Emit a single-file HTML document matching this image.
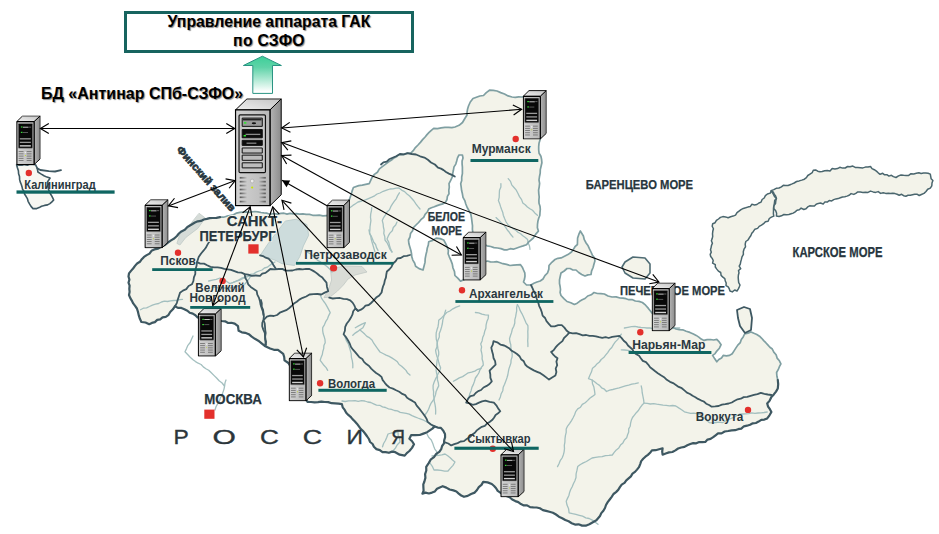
<!DOCTYPE html>
<html><head><meta charset="utf-8">
<style>
html,body{margin:0;padding:0;background:#fff;}
body{width:939px;height:534px;overflow:hidden;position:relative;font-family:"Liberation Sans",sans-serif;}
svg{position:absolute;left:0;top:0;}
.hdr{position:absolute;left:124px;top:11px;width:284px;height:36px;border:3px solid #17645f;background:#fff;}
.hdr div{position:absolute;left:0;width:100%;text-align:center;font-weight:bold;font-size:15.8px;color:#000;text-shadow:1px 1px 1px #8a8a8a;}
.bd{position:absolute;left:41px;top:84.8px;font-weight:bold;font-size:16px;color:#000;text-shadow:1px 1px 1px #8a8a8a;white-space:nowrap;}
</style></head><body>
<svg width="939" height="534" viewBox="0 0 939 534">
<defs>
<linearGradient id="gfront" x1="0" x2="1" y1="0" y2="0"><stop offset="0" stop-color="#d2d2d2"/><stop offset="1" stop-color="#b9b9b9"/></linearGradient>
<linearGradient id="gside" x1="0" x2="1"><stop offset="0" stop-color="#b4b4b4"/><stop offset="1" stop-color="#8c8c8c"/></linearGradient>
<linearGradient id="gtop" x1="0" x2="1" y1="1" y2="0"><stop offset="0" stop-color="#f0f0f0"/><stop offset="1" stop-color="#c4c4c4"/></linearGradient>
<linearGradient id="gventL" x1="0" x2="1"><stop offset="0" stop-color="#555"/><stop offset="1" stop-color="#c4c4c4"/></linearGradient>
<linearGradient id="gventR" x1="0" x2="1"><stop offset="0" stop-color="#c4c4c4"/><stop offset="1" stop-color="#555"/></linearGradient>
<linearGradient id="garrow" x1="0" x2="0" y1="0" y2="1"><stop offset="0" stop-color="#3ccf98"/><stop offset="0.3" stop-color="#5fd3a8"/><stop offset="0.95" stop-color="#ffffff"/></linearGradient>
<symbol id="srv" viewBox="0 0 48 109" preserveAspectRatio="none">
 <polygon points="0.8,11.7 12.4,0.6 47.2,0.6 35.8,11.7" fill="url(#gtop)" stroke="#000" stroke-width="1" vector-effect="non-scaling-stroke"/>
 <polygon points="35.8,11.7 47.2,0.6 47.2,96.9 35.8,107.9" fill="url(#gside)" stroke="#000" stroke-width="1" vector-effect="non-scaling-stroke"/>
 <rect x="0.8" y="11.7" width="35" height="96.2" fill="url(#gfront)" stroke="#000" stroke-width="1.3" vector-effect="non-scaling-stroke"/>
 <rect x="4.4" y="16.7" width="26.8" height="58" rx="1.2" fill="#c6c6c6" stroke="#111" stroke-width="1.2" vector-effect="non-scaling-stroke"/>
 <rect x="7.6" y="19.9" width="20.4" height="8.3" fill="#9a9a9a" stroke="#111" stroke-width="1" vector-effect="non-scaling-stroke"/>
 <rect x="8.4" y="20.6" width="18.8" height="1.6" fill="#222"/>
 <ellipse cx="19.5" cy="25" rx="2.2" ry="1" fill="#111"/>
 <rect x="9.4" y="23.9" width="2.4" height="1.6" fill="#2ee82e"/>
 <rect x="7.6" y="31.4" width="20.4" height="8.3" fill="#0c0c0c" stroke="#111" stroke-width="1" vector-effect="non-scaling-stroke"/>
 <rect x="11" y="35.6" width="15" height="1.3" fill="#8a8a8a"/>
 <rect x="9" y="36.8" width="2.4" height="1.6" fill="#2ee82e"/>
 <rect x="7.6" y="42.2" width="20.4" height="5.1" fill="#0c0c0c" stroke="#111" stroke-width="1" vector-effect="non-scaling-stroke"/>
 <rect x="12" y="44.6" width="10" height="0.9" fill="#bbb"/>
 <rect x="7.6" y="49.9" width="20.4" height="5.1" fill="#bdbdbd" stroke="#111" stroke-width="1" vector-effect="non-scaling-stroke"/>
 <rect x="7.6" y="57.1" width="20.4" height="5.2" fill="#bdbdbd" stroke="#111" stroke-width="1" vector-effect="non-scaling-stroke"/>
 <rect x="7.6" y="64.8" width="20.4" height="5.1" fill="#bdbdbd" stroke="#111" stroke-width="1" vector-effect="non-scaling-stroke"/>
 <g fill="url(#gventL)">
  <rect x="5.1" y="79" width="7.3" height="1.7"/><rect x="5.1" y="82.9" width="7.3" height="1.7"/><rect x="5.1" y="86.8" width="7.3" height="1.7"/><rect x="5.1" y="90.8" width="7.3" height="1.7"/><rect x="5.1" y="94.7" width="7.3" height="1.7"/><rect x="5.1" y="98.6" width="7.3" height="1.7"/><rect x="5.1" y="102.9" width="7.3" height="1.7"/>
 </g>
 <g fill="url(#gventR)">
  <rect x="24" y="79" width="7.5" height="1.7"/><rect x="24" y="82.9" width="7.5" height="1.7"/><rect x="24" y="86.8" width="7.5" height="1.7"/><rect x="24" y="90.8" width="7.5" height="1.7"/><rect x="24" y="94.7" width="7.5" height="1.7"/><rect x="24" y="98.6" width="7.5" height="1.7"/><rect x="24" y="102.9" width="7.5" height="1.7"/>
 </g>
 <circle cx="17.7" cy="83.1" r="1.9" fill="#eaeaea" stroke="#999" stroke-width="0.5"/>
 <circle cx="17.7" cy="89.6" r="1.1" fill="#c8e400"/>
</symbol>
<symbol id="srvs" viewBox="0 0 24 49" preserveAspectRatio="none">
 <polygon points="0.5,6.2 6.3,0.5 23.6,0.5 17.6,6.2" fill="url(#gtop)" stroke="#000" stroke-width="0.9"/>
 <polygon points="17.6,6.2 23.6,0.5 23.6,43 17.6,48.6" fill="url(#gside)" stroke="#000" stroke-width="0.9"/>
 <rect x="0.6" y="6.2" width="17" height="42.4" rx="0.6" fill="url(#gfront)" stroke="#000" stroke-width="1.2"/>
 <rect x="2" y="7.9" width="14.2" height="24.6" rx="0.8" fill="#080808" stroke="#9a9a9a" stroke-width="0.6"/>
 <rect x="4.6" y="10.9" width="1.6" height="1.1" fill="#3cf03c"/>
 <rect x="6.6" y="11.2" width="5.5" height="0.9" fill="#d8d8d8"/><rect x="12.5" y="11.2" width="2.2" height="0.7" fill="#888"/>
 <rect x="4.6" y="16.2" width="1.6" height="1.1" fill="#3cf03c"/>
 <rect x="6.6" y="16.5" width="5" height="0.7" fill="#777"/>
 <rect x="3.6" y="22.5" width="10.8" height="1.3" fill="#9a9a9a"/>
 <rect x="3.6" y="26" width="10.8" height="1.3" fill="#9a9a9a"/>
 <rect x="3.6" y="29.4" width="10.8" height="1.4" fill="#d0d0d0"/>
 <g fill="#6a6a6a">
  <rect x="2.4" y="35.4" width="4.8" height="0.8"/><rect x="10.3" y="35.4" width="4.8" height="0.8"/>
  <rect x="2.4" y="37.6" width="4.8" height="0.8"/><rect x="10.3" y="37.6" width="4.8" height="0.8"/>
  <rect x="2.4" y="39.8" width="4.8" height="0.8"/><rect x="10.3" y="39.8" width="4.8" height="0.8"/>
  <rect x="2.4" y="42" width="4.8" height="0.8"/><rect x="10.3" y="42" width="4.8" height="0.8"/>
  <rect x="2.4" y="44.2" width="4.8" height="0.8"/><rect x="10.3" y="44.2" width="4.8" height="0.8"/>
 </g>
 <circle cx="9" cy="36.6" r="0.8" fill="#eee"/>
 <circle cx="9" cy="39.5" r="0.5" fill="#c8e400"/>
</symbol>
<marker id="ah" viewBox="0 0 9 10" refX="8.4" refY="5" markerWidth="9" markerHeight="10" overflow="visible" markerUnits="userSpaceOnUse" orient="auto-start-reverse">
 <path d="M0,0 L8.4,5 L0,10" fill="none" stroke="#000" stroke-width="1.15"/>
</marker>
<marker id="ahf" viewBox="0 0 8 8" refX="7.3" refY="4" markerWidth="8" markerHeight="8" overflow="visible" markerUnits="userSpaceOnUse" orient="auto">
 <path d="M0,0.2 L7.3,4 L0,7.8 z" fill="#000"/>
</marker>
</defs>

<g id="map">
<path d="M455.0,127.0 L462.5,122.5 L467.0,115.0 L468.5,106.0 L473.0,98.5 L483.5,95.5 L489.5,90.2 L497.0,91.0 L504.5,94.0 L512.0,97.0 L522.0,97.0 L535.0,94.0 L545.0,110.0 L542.0,128.0 L540.0,140.0 L538.7,150.0 L541.9,162.8 L539.0,180.0 L539.2,197.0 L540.0,212.4 L537.5,224.3 L538.4,231.1 L533.3,238.0 L526.5,244.7 L516.2,248.2 L504.3,249.9 L490.7,246.5 L480.4,243.0 L474.2,240.0 L472.5,225.8 L470.8,214.0 L465.8,204.0 L462.4,193.8 L460.7,183.7 L462.4,170.2 L462.4,155.0 L459.0,155.0 L454.0,166.9 L452.3,177.0 L449.0,183.7 L449.0,193.8 L445.6,202.2 L437.1,205.6 L428.7,209.0 L423.7,217.4 L418.6,222.5 L413.5,227.5 L408.5,240.0 L410.0,247.4 L411.8,256.8 L415.6,266.2 L423.0,270.0 L425.0,262.4 L426.8,251.2 L428.7,241.8 L436.2,238.1 L443.7,240.0 L447.4,247.4 L449.3,256.8 L453.0,268.0 L454.9,275.5 L460.5,281.1 L470.0,276.0 L480.0,264.0 L487.5,261.0 L499.5,262.5 L510.0,265.5 L520.5,264.7 L523.5,270.0 L525.0,276.0 L523.5,282.0 L526.5,285.0 L531.0,285.0 L537.0,282.0 L543.0,279.0 L547.5,273.0 L549.0,265.5 L555.0,259.5 L564.0,256.5 L571.5,252.0 L577.4,244.5 L577.6,238.0 L580.3,231.0 L583.4,236.0 L586.1,243.0 L591.0,252.0 L594.6,258.0 L594.0,264.0 L591.0,274.5 L585.0,276.0 L576.0,270.0 L567.0,268.5 L561.0,273.0 L559.5,283.5 L561.0,295.5 L567.0,301.5 L574.4,304.5 L585.0,298.5 L594.0,292.5 L604.4,294.0 L612.0,297.0 L620.0,298.0 L632.0,299.5 L642.4,302.5 L648.4,308.4 L652.0,313.0 L665.0,322.0 L676.0,329.0 L682.7,329.8 L693.4,334.0 L704.0,340.4 L716.8,339.4 L721.1,344.7 L716.8,351.1 L712.6,355.4 L716.8,361.8 L723.2,355.4 L729.6,355.4 L733.9,351.1 L740.3,342.6 L744.6,334.0 L751.0,331.9 L759.5,336.2 L772.3,349.0 L780.9,363.9 L776.6,372.5 L777.8,380.0 L777.8,388.5 L771.4,397.1 L767.2,403.5 L771.4,412.0 L767.2,418.4 L750.1,424.8 L735.1,430.2 L718.0,433.4 L705.3,441.9 L690.3,444.0 L675.4,450.4 L662.6,454.7 L662.6,448.3 L651.9,450.4 L641.2,461.1 L637.0,469.6 L626.3,480.3 L613.5,494.0 L606.0,505.0 L600.0,516.0 L596.4,520.3 L585.7,525.7 L575.0,524.6 L562.2,518.2 L549.4,511.8 L536.6,507.5 L523.8,505.4 L515.3,501.1 L500.3,492.6 L491.8,484.0 L483.2,481.9 L474.7,492.6 L464.0,496.8 L453.4,490.4 L442.7,486.2 L432.0,492.6 L422.4,493.6 L424.4,481.5 L426.2,466.8 L430.9,459.3 L439.3,451.8 L444.0,443.4 L445.0,434.0 L440.9,427.9 L434.7,426.4 L427.2,432.2 L419.7,435.0 L411.2,435.0 L409.4,438.7 L414.0,444.3 L409.4,451.0 L404.7,455.6 L399.7,454.7 L395.3,452.2 L382.5,452.2 L373.9,446.8 L365.4,434.0 L354.7,421.2 L346.2,412.7 L341.9,404.2 L324.8,402.0 L307.7,402.0 L300.0,385.0 L293.0,372.0 L288.4,363.0 L284.5,360.3 L283.2,353.8 L278.0,349.8 L270.1,348.5 L264.8,345.9 L258.3,340.7 L251.7,336.7 L245.2,332.8 L238.6,330.8 L238.0,326.2 L234.7,323.6 L228.1,323.0 L221.6,321.0 L210.0,320.0 L197.6,317.4 L187.4,310.7 L175.0,306.2 L168.3,315.2 L149.2,324.2 L141.4,322.0 L136.9,308.5 L129.0,295.0 L129.0,273.4 L135.0,265.9 L144.0,256.9 L154.4,249.4 L165.0,245.0 L171.0,240.4 L176.9,236.0 L181.4,231.4 L187.4,227.0 L194.9,222.5 L203.8,219.5 L212.8,218.0 L220.0,217.2 L226.8,216.2 L239.9,212.4 L254.9,211.5 L269.9,214.3 L281.0,213.4 L293.1,213.8 L306.2,214.4 L319.3,215.1 L326.6,215.7 L340.0,208.0 L349.5,199.3 L350.8,195.4 L353.4,187.5 L358.7,185.6 L369.2,183.6 L374.4,174.4 L382.3,166.6 L391.5,160.0 L399.4,154.3 L410.6,153.4 L418.0,145.0 L425.1,137.0 L433.7,128.4 L448.6,127.4 Z" fill="#f3f3ea" stroke="none" stroke-width="0" stroke-linejoin="round" stroke-linecap="round" />
<path d="M285.6,221.0 L296.2,219.2 L306.9,224.6 L308.7,235.2 L303.4,245.9 L299.8,256.6 L294.5,265.5 L282.0,263.7 L274.9,260.1 L264.2,256.6 L260.7,254.8 L267.8,244.1 L278.5,229.9 Z" fill="#cddcdc" stroke="#b5c8c8" stroke-width="0.8" stroke-linejoin="round" stroke-linecap="round" />
<path d="M330.7,268.5 L345.0,266.0 L362.0,266.5 L367.0,272.0 L355.0,275.0 L348.0,279.0 L343.4,285.0 L337.5,291.0 L330.0,297.0 L324.0,297.7 L328.5,289.4 L331.5,280.4 Z" fill="#d9dcd6" stroke="#c0c8c4" stroke-width="0.8" stroke-linejoin="round" stroke-linecap="round" />
<path d="M199.3,213.5 L205.3,218.0 L197.8,228.4 L185.9,237.4 L179.9,245.0 L176.9,243.4 L179.9,234.4 L190.4,224.0 Z" fill="#d6dcd8" stroke="#c0cac6" stroke-width="0.8" stroke-linejoin="round" stroke-linecap="round" />
<path d="M621.3,334.1 L619.5,336.8 L617.6,339.6 L615.3,341.9 L613.4,344.6 L611.8,347.5 L609.5,349.8 L607.7,352.6 L605.6,355.1 L603.7,357.6 L601.2,359.5 L599.4,362.0 L596.9,363.9 L595.0,366.3 L592.5,368.2 L591.5,371.8 L589.9,375.2 L588.5,378.7 L592.1,380.0 L592.5,383.7 L593.9,387.1 L594.5,390.7 L595.0,394.4 L592.4,396.4 L589.8,398.2 L587.5,400.6 L585.2,402.8 L582.3,404.4 L580.5,407.2 L577.7,408.9 L575.7,411.6 L574.6,414.8 L573.1,417.7 L571.5,420.6 L569.7,423.4 L567.6,426.1 L566.2,429.1 L566.2,432.4 L565.4,435.6 L565.0,438.8 L564.9,442.1 L564.3,445.3 L564.5,448.6 L564.1,451.8 L563.3,455.0 L562.1,458.0 L560.2,460.7 L559.0,463.7 L557.5,466.6" fill="none" stroke="#a3bfbf" stroke-width="1.3" stroke-linejoin="round" stroke-linecap="round" />
<path d="M641.2,385.8 L641.9,389.2 L642.2,392.7 L642.9,396.2 L643.6,399.6 L644.0,403.1 L641.9,405.3 L640.0,407.8 L638.4,410.5 L636.3,412.7 L634.4,415.1 L632.5,417.5 L631.3,420.3 L630.6,423.2 L630.2,426.2 L628.7,428.9 L628.7,432.0 L627.6,434.8 L626.7,437.7 L624.4,440.0 L622.9,442.9 L620.5,445.1 L618.8,447.9 L616.3,449.9 L614.2,452.4 L612.3,455.0 L608.9,455.4 L605.5,455.6 L602.2,456.7 L598.8,456.8 L595.5,457.4 L592.1,458.0 L589.2,459.7 L586.4,461.5 L583.3,462.9 L580.4,464.5 L577.7,466.6 L577.0,470.2 L576.1,473.8 L576.0,477.5 L574.8,481.0 L573.4,483.8 L572.2,486.7 L570.7,489.5 L569.6,492.4 L568.9,495.5 L567.5,498.4 L566.2,501.2 L567.0,505.1 L568.6,508.8 L569.1,512.8 L572.5,513.7 L575.9,514.4 L579.3,515.3 L582.6,516.2 L585.8,517.8 L589.2,518.5 L592.3,520.1 L595.2,522.2 L598.0,524.3" fill="none" stroke="#a3bfbf" stroke-width="1.3" stroke-linejoin="round" stroke-linecap="round" />
<path d="M644.0,403.1 L647.2,403.3 L650.3,404.0 L653.6,403.6 L656.7,404.2 L659.9,404.6 L663.0,405.2 L666.2,405.4 L669.4,405.8 L672.6,405.5 L675.8,406.0 L678.7,407.9 L681.6,409.7 L684.4,411.8 L687.5,412.7 L690.6,413.4 L693.8,413.1 L696.9,413.7 L700.0,414.6 L702.5,416.4 L704.9,418.4 L707.1,420.7 L709.5,422.7 L712.7,422.8 L715.9,422.5 L719.1,422.2 L722.3,422.7 L725.1,421.2 L727.9,419.7 L730.9,418.5 L733.9,417.4 L736.6,415.8 L739.4,414.2 L742.5,414.0 L745.6,413.8 L748.7,413.6 L751.7,412.8 L754.9,413.4 L758.0,413.0 L761.1,412.9 L764.1,412.5 L767.2,412.0" fill="none" stroke="#a3bfbf" stroke-width="1.3" stroke-linejoin="round" stroke-linecap="round" />
<path d="M592.1,380.0 L594.6,381.8 L597.0,383.8 L599.5,385.4 L601.6,387.8 L604.4,389.2 L606.5,391.5 L609.6,390.2 L612.8,389.5 L616.0,388.6 L619.2,387.9 L622.3,386.8 L625.4,385.9 L628.7,385.1 L631.8,384.2 L635.1,383.6 L638.3,382.9" fill="none" stroke="#a3bfbf" stroke-width="1.3" stroke-linejoin="round" stroke-linecap="round" />
<path d="M500.9,183.6 L500.9,187.1 L499.5,190.3 L499.3,193.8 L499.2,197.3 L498.4,200.6 L499.6,203.4 L500.5,206.4 L501.5,209.3 L502.7,212.2 L503.3,215.2 L504.6,218.6 L506.1,222.0 L508.2,225.0 L510.6,226.8 L513.1,228.6 L515.7,230.1 L517.9,232.2 L520.6,233.7 L522.8,235.7 L525.3,237.5 L527.6,239.5 L528.1,242.8 L529.5,246.0 L530.0,249.3" fill="none" stroke="#a3bfbf" stroke-width="1.3" stroke-linejoin="round" stroke-linecap="round" />
<path d="M508.2,178.7 L510.5,181.4 L511.7,184.8 L514.0,187.5 L516.3,190.2 L517.9,193.3 L519.5,196.6 L521.6,199.6 L522.8,203.0 L525.2,204.8 L527.4,207.0 L529.9,208.8 L532.5,210.3 L534.8,212.9 L537.4,215.2" fill="none" stroke="#a3bfbf" stroke-width="1.3" stroke-linejoin="round" stroke-linecap="round" />
<path d="M496.0,217.6 L498.6,219.9 L500.9,222.4 L503.5,224.7 L505.7,227.4 L507.3,230.0 L509.3,232.3 L511.0,234.8 L513.0,237.1" fill="none" stroke="#a3bfbf" stroke-width="1.3" stroke-linejoin="round" stroke-linecap="round" />
<path d="M624.4,328.0 L627.9,327.3 L631.4,326.7 L635.0,326.4 L638.0,327.0 L640.9,327.5 L644.0,327.7 L647.0,328.0 L650.0,328.0 L653.0,328.6 L656.0,328.7 L659.0,328.4 L662.0,329.0 L665.0,329.0 L668.0,329.4 L671.9,328.5 L675.8,328.0 L679.8,328.0" fill="none" stroke="#a3bfbf" stroke-width="1.3" stroke-linejoin="round" stroke-linecap="round" />
<path d="M621.3,349.8 L624.7,350.0 L628.1,350.3 L631.4,351.1 L634.7,351.8 L638.2,351.7 L641.5,352.5 L644.9,352.5" fill="none" stroke="#a3bfbf" stroke-width="1.3" stroke-linejoin="round" stroke-linecap="round" />
<path d="M459.7,305.9 L456.2,307.1 L452.9,308.8 L449.9,311.0 L446.6,312.5 L444.2,315.3 L441.5,317.9 L438.7,320.3 L438.5,323.5 L438.0,326.7 L437.0,329.8 L436.2,332.9 L436.1,336.1 L436.3,339.3 L437.2,342.4 L437.5,345.5 L437.9,348.7 L438.7,351.8 L438.7,354.9 L437.7,357.9 L437.0,360.9 L436.7,364.0 L436.3,367.1 L436.1,370.2 L436.6,373.3 L437.5,376.4 L437.4,379.7 L438.3,382.7 L438.7,385.9 L437.4,388.6 L436.1,391.4 L435.6,394.4 L434.6,397.2 L433.4,400.0 L431.3,402.8 L429.8,405.9 L428.6,409.2 L427.0,412.2 L425.0,415.0" fill="none" stroke="#a3bfbf" stroke-width="1.3" stroke-linejoin="round" stroke-linecap="round" />
<path d="M475.4,312.5 L478.7,312.8 L481.9,314.2 L485.2,314.8 L488.5,315.1 L488.2,318.4 L486.9,321.6 L486.1,324.8 L485.9,328.2 L484.7,331.3 L484.0,334.5 L482.7,337.6 L482.1,340.9 L480.7,343.9 L481.6,346.9 L481.0,350.0 L481.7,353.0 L482.2,356.0 L482.1,359.0 L483.0,362.0 L483.3,365.0 L481.4,367.4 L479.9,370.0 L478.8,373.0 L477.2,375.5 L475.4,378.0 L474.5,381.2 L473.4,384.4 L471.9,387.4 L471.1,390.7 L469.8,393.7 L469.0,397.0 L467.5,400.0" fill="none" stroke="#a3bfbf" stroke-width="1.3" stroke-linejoin="round" stroke-linecap="round" />
<path d="M517.4,304.6 L516.6,307.6 L516.7,310.8 L516.1,313.8 L515.6,316.9 L514.8,319.9 L514.8,323.0 L513.8,326.2 L512.3,329.1 L511.6,332.4 L510.5,335.5 L509.5,338.7 L509.9,341.8 L510.8,344.7 L510.9,347.8 L511.5,350.9 L512.2,353.9 L512.1,357.0 L511.1,359.9 L510.9,363.1 L509.9,366.0 L508.9,368.9 L508.3,372.0 L507.8,375.0 L506.9,378.0 L505.8,381.1 L504.6,384.3 L503.2,387.3 L502.8,390.7 L501.2,393.7 L500.4,396.9 L499.0,400.0" fill="none" stroke="#a3bfbf" stroke-width="1.3" stroke-linejoin="round" stroke-linecap="round" />
<path d="M517.4,304.6 L519.1,307.5 L520.2,310.7 L521.9,313.6 L523.3,316.6 L524.7,319.7 L526.0,322.8 L527.9,325.6 L528.0,328.6 L527.8,331.6 L527.9,334.6 L527.9,337.6 L527.7,340.6 L527.9,343.6 L527.9,346.6" fill="none" stroke="#a3bfbf" stroke-width="1.3" stroke-linejoin="round" stroke-linecap="round" />
<path d="M453.4,381.3 L456.4,379.6 L459.3,377.9 L462.6,376.6 L465.4,374.7 L468.3,372.8 L471.6,372.1 L474.8,371.1 L477.8,369.3 L481.1,368.5" fill="none" stroke="#a3bfbf" stroke-width="1.3" stroke-linejoin="round" stroke-linecap="round" />
<path d="M432.0,456.0 L435.3,455.6 L438.6,455.4 L441.8,454.8 L445.0,454.0 L447.7,455.7 L450.2,457.7 L452.5,460.0 L455.0,462.0 L453.0,465.3 L450.5,468.2 L448.0,471.0 L444.5,471.2 L441.0,470.3 L437.5,470.0 L434.0,470.0 L432.3,466.3 L430.0,463.0" fill="none" stroke="#a3bfbf" stroke-width="1.3" stroke-linejoin="round" stroke-linecap="round" />
<path d="M382.5,446.8 L383.6,443.5 L385.4,440.5 L386.8,437.3 L388.0,434.0 L391.3,433.0 L394.7,433.0 L398.0,432.0 L398.2,435.4 L399.6,438.6 L400.0,442.0 L397.3,444.7 L395.4,448.1 L393.0,451.0" fill="none" stroke="#a3bfbf" stroke-width="1.3" stroke-linejoin="round" stroke-linecap="round" />
<path d="M371.7,207.7 L371.4,210.9 L370.7,214.1 L370.5,217.3 L370.9,220.6 L370.4,223.8 L370.0,227.0 L369.9,230.2 L369.5,233.4 L371.2,236.1 L372.5,239.0 L373.6,242.0 L375.6,244.5 L376.5,247.6 L378.0,250.4" fill="none" stroke="#a3bfbf" stroke-width="1.3" stroke-linejoin="round" stroke-linecap="round" />
<path d="M399.4,192.8 L397.7,195.6 L396.4,198.6 L394.4,201.2 L392.5,203.9 L390.8,206.7 L389.5,209.7 L387.0,212.0 L385.5,214.9 L383.6,217.6 L382.3,220.6 L383.1,223.8 L383.4,227.0 L384.1,230.2 L383.8,233.6 L384.8,236.7 L385.0,240.0 L387.1,242.8 L388.6,246.0 L389.9,249.2 L392.0,252.0" fill="none" stroke="#a3bfbf" stroke-width="1.3" stroke-linejoin="round" stroke-linecap="round" />
<path d="M305.0,250.0 L307.3,252.2 L310.2,253.8 L312.7,255.7 L315.0,258.0 L317.3,260.1 L320.0,261.6 L322.4,263.4 L325.0,265.0 L327.6,267.0 L330.0,269.4 L332.0,272.0" fill="none" stroke="#a3bfbf" stroke-width="1.3" stroke-linejoin="round" stroke-linecap="round" />
<path d="M275.0,262.0 L272.3,263.4 L269.8,265.3 L267.4,267.2 L264.4,268.0 L262.0,270.0 L259.1,271.0 L256.2,272.1 L253.7,273.9 L250.5,274.3 L248.0,276.2 L245.0,277.0 L241.6,278.2 L238.5,280.0 L235.3,281.6 L232.0,283.0" fill="none" stroke="#a3bfbf" stroke-width="1.3" stroke-linejoin="round" stroke-linecap="round" />
<path d="M208.7,281.0 L212.5,280.1 L216.3,279.4 L220.0,278.0 L223.3,279.7 L226.7,281.4 L229.7,283.6 L233.1,282.4 L236.5,281.0 L240.0,280.0 L243.4,278.2 L247.0,276.8 L250.7,275.7 L249.2,278.7 L247.1,281.4 L245.0,284.0 L242.0,285.0 L239.1,285.8 L235.9,286.1 L233.1,287.4 L230.0,288.0 L227.0,287.8 L224.0,288.0 L221.0,287.7 L218.0,287.8 L215.0,287.4 L212.0,287.0" fill="none" stroke="#a3bfbf" stroke-width="1.3" stroke-linejoin="round" stroke-linecap="round" />
<path d="M140.5,309.8 L143.3,308.2 L146.6,307.8 L149.5,306.5 L152.4,305.1 L155.5,304.2 L158.7,303.5 L161.5,302.0 L164.4,301.2 L167.5,301.5 L170.5,300.8 L173.5,300.5 L176.5,300.4 L179.5,299.6 L182.5,299.3" fill="none" stroke="#a3bfbf" stroke-width="1.3" stroke-linejoin="round" stroke-linecap="round" />
<path d="M360.0,330.0 L362.4,332.0 L364.7,334.1 L366.9,336.4 L369.7,337.9 L372.0,340.0 L373.7,343.2 L375.8,346.1 L377.9,349.1 L380.0,352.0 L383.0,353.5 L386.1,355.1 L389.2,356.4 L392.2,358.1 L395.0,360.0 L397.4,361.8 L399.1,364.5 L401.6,366.3 L403.8,368.3 L406.0,370.4 L407.6,373.1 L410.0,375.0" fill="none" stroke="#a3bfbf" stroke-width="1.3" stroke-linejoin="round" stroke-linecap="round" />
<path d="M320.2,295.0 L321.5,298.1 L323.4,301.0 L325.4,303.7 L327.1,306.6 L328.7,309.6 L330.2,312.6 L328.7,315.6 L327.5,318.8 L325.7,321.7 L324.4,324.8 L322.7,327.7 L322.7,330.8 L323.2,333.8 L324.2,336.7 L325.0,339.7 L325.2,342.7 L323.9,345.5 L323.7,348.6 L322.8,351.5 L322.3,354.6 L321.1,357.4 L320.2,360.3 L322.1,362.8 L323.9,365.3 L326.1,367.6 L327.7,370.3" fill="none" stroke="#a3bfbf" stroke-width="1.3" stroke-linejoin="round" stroke-linecap="round" />
<path d="M345.3,337.7 L346.5,340.9 L348.3,343.8 L349.3,347.1 L350.3,350.3 L351.2,353.7 L351.4,357.3 L352.3,360.7 L352.8,364.2 L352.8,367.8" fill="none" stroke="#a3bfbf" stroke-width="1.3" stroke-linejoin="round" stroke-linecap="round" />
<path d="M355.3,327.7 L358.6,325.9 L361.9,324.1 L365.4,322.7 L362.9,327.7 L360.3,329.5 L357.8,331.4 L355.2,333.1 L352.8,335.2" fill="none" stroke="#a3bfbf" stroke-width="1.3" stroke-linejoin="round" stroke-linecap="round" />
<path d="M445.7,310.1 L444.7,313.4 L443.8,316.7 L442.8,320.1 L442.4,323.5 L441.6,326.9 L440.6,330.2 L439.3,333.4 L439.3,337.0 L437.9,340.2 L437.1,343.6 L436.9,347.1 L435.6,350.3 L436.1,353.3 L436.9,356.2 L438.0,359.1 L438.7,362.0 L439.5,365.0 L440.6,367.8 L439.7,370.9 L438.1,373.7 L436.8,376.6 L435.3,379.4 L434.1,382.3 L433.1,385.4 L433.1,388.6 L433.6,391.8 L433.5,395.0 L434.0,398.1 L434.3,401.3 L435.0,404.4 L435.5,407.6 L435.7,410.8 L435.6,414.0" fill="none" stroke="#a3bfbf" stroke-width="1.3" stroke-linejoin="round" stroke-linecap="round" />
<path d="M193.0,336.0 L191.5,339.2 L190.2,342.5 L187.9,345.3 L186.5,348.6 L185.0,351.8 L187.6,354.5 L190.2,357.2 L193.0,359.7 L195.5,361.6 L198.2,363.2 L201.1,364.5 L203.3,366.9 L205.9,368.7 L208.7,370.2 L211.3,372.8 L213.9,375.4 L216.6,378.0 L219.1,380.8 L222.1,383.0 L224.4,386.0" fill="none" stroke="#a3bfbf" stroke-width="1.3" stroke-linejoin="round" stroke-linecap="round" />
<path d="M226.0,380.0 L225.0,382.9 L224.6,386.1 L224.0,389.1 L223.0,392.1 L222.0,395.0 L220.4,397.9 L219.5,401.1 L217.6,403.9 L216.0,406.8 L215.0,410.0" fill="none" stroke="#a3bfbf" stroke-width="1.3" stroke-linejoin="round" stroke-linecap="round" />
<path d="M348.0,209.0 L350.5,207.2 L352.9,205.4 L355.5,203.7 L358.0,202.0 L361.7,201.0 L365.4,199.9 L369.0,198.4 L371.8,197.2 L374.6,195.8 L377.1,194.0 L380.0,193.0 L383.2,191.3 L386.6,190.1 L390.0,189.0 L393.0,188.9 L396.0,188.1 L399.0,188.0 L401.6,190.1 L404.6,191.6 L407.0,194.0 L409.6,196.0 L411.8,198.5 L414.0,201.0 L415.9,203.8 L417.8,206.4 L420.0,209.0" fill="none" stroke="#a3bfbf" stroke-width="1.3" stroke-linejoin="round" stroke-linecap="round" />
<path d="M369.0,230.0 L369.6,233.0 L370.7,235.9 L371.2,239.0 L372.0,242.0 L373.0,245.3 L374.0,248.7 L375.0,252.0" fill="none" stroke="#a3bfbf" stroke-width="1.3" stroke-linejoin="round" stroke-linecap="round" />
<path d="M397.0,222.0 L395.7,225.0 L393.3,227.5 L392.3,230.7 L389.9,233.1 L388.3,235.9 L387.0,239.0 L388.7,242.1 L389.5,245.5 L390.5,248.9 L392.0,252.0" fill="none" stroke="#a3bfbf" stroke-width="1.3" stroke-linejoin="round" stroke-linecap="round" />
<path d="M342.0,401.0 L345.2,401.5 L348.5,400.9 L351.7,400.8 L355.0,400.7 L358.2,401.4 L361.5,400.7 L364.7,401.0 L367.7,402.0 L370.8,402.5 L373.6,403.8 L376.5,405.2 L379.7,405.3 L382.5,406.9 L385.5,407.5 L388.4,408.8 L391.5,409.4 L394.4,410.5 L397.4,410.9 L400.2,412.4 L403.2,412.9 L406.3,413.4 L409.2,414.2 L412.0,415.6 L414.9,416.8 L417.8,418.0 L420.8,419.1 L423.7,420.2 L426.5,421.8 L429.1,423.4 L431.6,425.1 L434.0,427.0" fill="none" stroke="#a3bfbf" stroke-width="1.3" stroke-linejoin="round" stroke-linecap="round" />
<path d="M427.0,434.0 L428.6,437.3 L431.3,440.0 L432.8,443.4 L433.7,446.3 L434.8,449.1 L436.7,451.7 L437.5,454.6" fill="none" stroke="#a3bfbf" stroke-width="1.3" stroke-linejoin="round" stroke-linecap="round" />
<path d="M220.0,217.2 L223.5,217.2 L226.8,216.2 L230.1,215.5 L233.5,214.8 L236.6,213.1 L239.9,212.4 L242.9,212.1 L245.9,211.9 L248.9,212.5 L251.9,211.8 L254.9,211.5 L257.9,211.9 L260.9,212.5 L263.9,212.9 L267.0,213.2 L269.9,214.3 L273.6,213.5 L277.3,214.1 L281.0,213.4 L284.0,213.2 L287.0,214.1 L290.1,213.4 L293.1,213.8 L296.4,213.7 L299.6,214.1 L302.9,213.9 L306.2,214.4 L309.5,214.4 L312.7,215.3 L316.0,215.4 L319.3,215.1 L322.9,215.8 L326.6,215.7 L329.4,214.3 L332.2,213.1 L334.9,211.5 L337.3,209.6 L340.0,208.0 L342.6,206.0 L344.4,203.3 L347.3,201.7 L349.5,199.3 L350.8,195.4 L352.0,191.4 L353.4,187.5 L358.7,185.6 L362.3,185.2 L365.7,184.4 L369.2,183.6 L370.7,180.4 L372.2,177.2 L374.4,174.4 L377.4,172.2 L379.4,168.9 L382.3,166.6 L385.3,164.4 L388.3,162.0 L391.5,160.0 L394.0,157.9 L396.9,156.4 L399.4,154.3 L403.2,154.6 L406.8,153.4 L410.6,153.4 L413.2,150.7 L415.4,147.6 L418.0,145.0 L420.4,142.4 L422.6,139.6 L425.1,137.0 L427.0,134.6 L429.1,132.4 L431.3,130.3 L433.7,128.4 L437.5,128.6 L441.1,127.9 L444.9,127.3 L448.6,127.4 L451.8,127.7 L455.0,127.0 L459.1,125.3 L462.5,122.5 L464.7,118.7 L467.0,115.0 L467.1,111.9 L467.6,108.9 L468.5,106.0 L470.3,102.0 L473.0,98.5 L476.4,97.3 L479.9,96.0 L483.5,95.5 L486.3,92.6 L489.5,90.2 L493.3,90.3 L497.0,91.0 L500.7,92.6 L504.5,94.0 L508.1,95.9 L512.0,97.0 L515.3,97.3 L518.7,96.9 L522.0,97.0 L525.2,96.1 L528.5,95.5 L531.7,94.6 L535.0,94.0 L536.8,96.6 L538.8,99.1 L540.2,101.9 L541.2,105.0 L543.7,107.1 L545.0,110.0 L544.5,113.0 L543.8,116.0 L543.1,118.9 L543.3,122.1 L542.8,125.0 L542.0,128.0 L541.8,131.0 L541.1,134.0 L540.6,137.0 L540.0,140.0 L539.0,143.3 L538.7,146.6 L538.7,150.0 L539.1,153.3 L540.9,156.3 L541.6,159.5 L541.9,162.8 L541.1,166.2 L540.3,169.6 L540.2,173.1 L539.5,176.5 L539.0,180.0 L539.6,183.4 L539.2,186.8 L538.6,190.2 L538.8,193.6 L539.2,197.0 L538.9,200.1 L539.0,203.2 L540.0,206.2 L540.3,209.3 L540.0,212.4 L539.8,215.5 L538.7,218.3 L537.9,221.3 L537.5,224.3 L537.4,227.8 L538.4,231.1 L535.6,234.4 L533.3,238.0 L530.9,240.1 L528.5,242.2 L526.5,244.7 L523.1,245.9 L519.6,247.0 L516.2,248.2 L513.3,249.2 L510.2,248.7 L507.3,249.8 L504.3,249.9 L501.0,248.6 L497.5,248.0 L494.0,247.6 L490.7,246.5 L487.1,245.8 L483.7,244.4 L480.4,243.0 L477.4,241.4 L474.2,240.0 L474.0,236.4 L472.9,233.0 L472.4,229.4 L472.5,225.8 L472.0,221.9 L471.5,217.9 L470.8,214.0 L469.0,210.7 L467.2,207.5 L465.8,204.0 L464.8,200.6 L463.0,197.4 L462.4,193.8 L461.6,190.5 L461.2,187.1 L460.7,183.7 L461.7,180.4 L461.7,177.0 L462.4,173.6 L462.4,170.2 L462.4,167.2 L462.1,164.1 L462.1,161.1 L463.0,158.0 L462.4,155.0 L459.0,155.0 L457.5,157.9 L456.7,161.0 L455.8,164.1 L454.0,166.9 L453.4,170.3 L452.7,173.6 L452.3,177.0 L450.7,180.4 L449.0,183.7 L449.3,187.1 L448.8,190.4 L449.0,193.8 L447.4,196.4 L447.0,199.5 L445.6,202.2 L443.0,203.9 L440.0,204.6 L437.1,205.6 L434.3,206.8 L431.4,207.7 L428.7,209.0 L427.3,212.0 L425.1,214.4 L423.7,217.4 L420.9,219.7 L418.6,222.5 L416.0,225.0 L413.5,227.5 L412.6,230.8 L410.5,233.5 L410.0,237.0 L408.5,240.0 L408.9,243.8 L410.0,247.4 L410.9,250.5 L411.5,253.6 L411.8,256.8 L412.8,260.1 L414.6,263.0 L415.6,266.2 L419.1,268.6 L423.0,270.0 L424.0,266.2 L425.0,262.4 L425.2,258.6 L425.9,254.9 L426.8,251.2 L427.3,248.0 L428.3,245.0 L428.7,241.8 L432.7,240.4 L436.2,238.1 L440.1,238.6 L443.7,240.0 L445.7,243.6 L447.4,247.4 L448.4,250.5 L448.1,253.8 L449.3,256.8 L450.9,260.4 L452.3,264.1 L453.0,268.0 L454.5,271.6 L454.9,275.5 L457.8,278.2 L460.5,281.1 L463.9,279.8 L467.1,278.1 L470.0,276.0 L472.2,273.8 L474.5,271.6 L476.4,269.1 L477.8,266.3 L480.0,264.0 L483.6,262.1 L487.5,261.0 L490.4,261.9 L493.5,262.0 L496.6,261.6 L499.5,262.5 L502.9,263.7 L506.5,264.4 L510.0,265.5 L513.5,265.1 L517.0,264.8 L520.5,264.7 L522.3,267.2 L523.5,270.0 L524.8,272.9 L525.0,276.0 L524.5,279.1 L523.5,282.0 L526.5,285.0 L531.0,285.0 L533.9,283.3 L537.0,282.0 L540.2,281.0 L543.0,279.0 L544.9,275.7 L547.5,273.0 L548.8,269.4 L549.0,265.5 L551.8,262.3 L555.0,259.5 L557.9,258.3 L561.1,257.9 L564.0,256.5 L567.9,254.6 L571.5,252.0 L573.4,249.4 L575.0,246.7 L577.4,244.5 L577.5,241.2 L577.6,238.0 L578.8,234.4 L580.3,231.0 L583.4,236.0 L584.3,239.7 L586.1,243.0 L588.1,245.8 L589.5,248.9 L591.0,252.0 L592.4,255.2 L594.6,258.0 L594.9,261.1 L594.0,264.0 L593.1,267.5 L591.6,270.9 L591.0,274.5 L587.9,274.9 L585.0,276.0 L581.7,274.5 L578.7,272.5 L576.0,270.0 L572.9,270.0 L570.1,268.5 L567.0,268.5 L564.2,271.0 L561.0,273.0 L560.2,276.5 L559.5,279.9 L559.5,283.5 L560.1,286.5 L560.5,289.5 L560.1,292.6 L561.0,295.5 L563.9,298.6 L567.0,301.5 L570.8,302.7 L574.4,304.5 L577.2,303.2 L579.6,301.3 L582.2,299.8 L585.0,298.5 L587.7,296.0 L591.2,294.8 L594.0,292.5 L597.4,293.5 L600.9,293.7 L604.4,294.0 L608.0,296.0 L612.0,297.0 L616.1,296.9 L620.0,298.0 L623.0,298.1 L626.0,298.7 L628.9,299.7 L632.0,299.5 L635.3,301.0 L639.0,301.4 L642.4,302.5 L645.6,305.2 L648.4,308.4 L652.0,313.0 L654.6,314.7 L657.2,316.6 L659.5,318.8 L662.6,319.9 L665.0,322.0 L667.6,324.1 L670.3,325.7 L673.0,327.6 L676.0,329.0 L679.3,329.7 L682.7,329.8 L686.2,331.3 L689.9,332.4 L693.4,334.0 L696.2,335.4 L698.8,337.1 L701.2,339.1 L704.0,340.4 L707.2,339.6 L710.4,339.5 L713.6,340.0 L716.8,339.4 L719.2,341.9 L721.1,344.7 L719.4,348.2 L716.8,351.1 L715.1,353.6 L712.6,355.4 L714.6,358.6 L716.8,361.8 L718.8,359.5 L721.5,357.9 L723.2,355.4 L726.4,355.9 L729.6,355.4 L732.2,353.7 L733.9,351.1 L735.8,348.1 L737.8,345.1 L740.3,342.6 L741.3,339.5 L743.2,336.9 L744.6,334.0 L747.9,333.2 L751.0,331.9 L753.9,333.3 L756.8,334.5 L759.5,336.2 L761.7,338.3 L763.7,340.6 L765.8,342.7 L767.8,344.9 L769.9,347.2 L772.3,349.0 L773.8,352.1 L776.1,354.7 L777.1,358.1 L779.4,360.8 L780.9,363.9 L779.4,366.7 L778.2,369.7 L776.6,372.5 L776.9,376.3 L777.8,380.0" fill="none" stroke="#7f9fa2" stroke-width="1.7" stroke-linejoin="round" stroke-linecap="round" />
<path d="M777.8,380.0 L778.2,384.2 L777.8,388.5 L776.0,391.6 L773.8,394.4 L771.4,397.1 L769.7,400.6 L767.2,403.5 L768.1,406.6 L769.9,409.2 L771.4,412.0 L769.5,415.3 L767.2,418.4 L764.4,419.6 L761.3,419.9 L758.6,421.6 L755.9,423.0 L752.8,423.3 L750.1,424.8 L747.0,425.7 L743.9,426.3 L741.3,428.6 L738.1,429.2 L735.1,430.2 L731.6,430.4 L728.2,431.0 L724.7,431.5 L721.5,433.4 L718.0,433.4 L715.6,435.3 L713.2,437.2 L710.6,438.9 L707.5,439.6 L705.3,441.9 L702.3,442.2 L699.2,442.1 L696.3,443.3 L693.2,443.1 L690.3,444.0 L687.3,445.3 L684.5,446.9 L681.2,447.5 L678.1,448.5 L675.4,450.4 L672.4,452.0 L669.0,452.4 L665.7,453.5 L662.6,454.7 L662.2,451.5 L662.6,448.3 L659.1,449.2 L655.6,450.2 L651.9,450.4 L650.1,452.8 L647.9,454.9 L645.4,456.7 L643.2,458.8 L641.2,461.1 L640.2,464.1 L639.0,467.1 L637.0,469.6 L635.0,471.9 L632.5,473.7 L630.9,476.3 L628.6,478.3 L626.3,480.3 L624.5,482.9 L621.7,484.6 L619.9,487.1 L618.2,489.9 L616.0,492.1 L613.5,494.0 L611.7,496.8 L609.7,499.5 L607.7,502.1 L606.0,505.0 L605.0,508.0 L603.4,510.7 L601.3,513.1 L600.0,516.0 L596.4,520.3 L592.9,522.2 L589.4,524.2 L585.7,525.7 L582.1,525.6 L578.6,524.3 L575.0,524.6 L571.7,523.2 L568.6,521.3 L565.3,520.0 L562.2,518.2 L558.9,516.7 L556.0,514.5 L552.9,512.8 L549.4,511.8 L546.1,510.9 L542.9,510.1 L539.9,508.3 L536.6,507.5 L533.3,507.4 L530.1,507.1 L527.1,505.4 L523.8,505.4 L520.9,504.1 L518.3,502.1 L515.3,501.1 L512.2,499.5 L509.6,497.2 L506.3,496.0 L503.1,494.7 L500.3,492.6 L497.7,490.9 L496.1,488.2 L494.1,486.0 L491.8,484.0 L487.6,482.4 L483.2,481.9 L481.5,484.9 L478.8,487.1 L477.0,490.0 L474.7,492.6 L471.1,494.0 L467.7,495.9 L464.0,496.8 L461.2,495.5 L458.7,493.6 L456.4,491.5 L453.4,490.4 L449.6,489.5 L446.3,487.6 L442.7,486.2 L439.8,487.4 L437.0,488.8 L434.9,491.4 L432.0,492.6 L428.9,493.5 L425.5,492.6 L422.4,493.6 L423.6,490.7 L423.4,487.5 L423.3,484.4 L424.4,481.5 L425.4,477.9 L425.1,474.1 L426.3,470.5 L426.2,466.8 L428.7,463.1 L430.9,459.3 L434.0,457.1 L436.2,453.9 L439.3,451.8 L441.2,449.2 L442.1,446.0 L444.0,443.4 L444.2,440.3 L445.1,437.2 L445.0,434.0 L443.3,430.7 L440.9,427.9 L437.7,427.6 L434.7,426.4 L432.4,428.6 L429.8,430.4 L427.2,432.2 L423.4,433.6 L419.7,435.0 L415.4,435.2 L411.2,435.0 L409.4,438.7 L412.1,441.2 L414.0,444.3 L412.0,447.9 L409.4,451.0 L406.8,453.1 L404.7,455.6 L399.7,454.7 L395.3,452.2 L392.1,451.6 L388.9,452.8 L385.7,452.1 L382.5,452.2 L379.8,450.1 L376.4,449.1 L373.9,446.8 L372.6,444.0 L370.1,442.0 L368.9,439.0 L367.2,436.5 L365.4,434.0 L363.4,431.3 L360.9,429.1 L358.9,426.4 L356.9,423.7 L354.7,421.2 L352.5,419.1 L350.6,416.8 L348.3,414.9 L346.2,412.7 L344.7,409.9 L342.7,407.3 L341.9,404.2 L338.5,403.6 L335.1,403.3 L331.6,403.2 L328.3,402.1 L324.8,402.0 L321.4,401.6 L318.0,402.1 L314.5,402.4 L311.1,402.0 L307.7,402.0 L305.9,399.4 L304.7,396.5 L303.8,393.5 L302.0,390.9 L301.2,387.9 L300.0,385.0 L298.3,381.7 L295.9,378.8 L294.9,375.2 L293.0,372.0 L290.9,369.3 L290.2,365.9 L288.4,363.0 L284.5,360.3 L284.2,357.0 L283.2,353.8 L280.6,351.8 L278.0,349.8 L273.9,349.8 L270.1,348.5 L264.8,345.9 L261.6,343.3 L258.3,340.7 L254.9,338.8 L251.7,336.7 L248.8,334.2 L245.2,332.8 L241.8,332.3 L238.6,330.8 L238.0,326.2 L234.7,323.6 L231.4,322.8 L228.1,323.0 L225.1,321.3 L221.6,321.0 L217.8,320.3 L213.9,319.9 L210.0,320.0 L206.8,319.8 L203.9,318.0 L200.7,318.1 L197.6,317.4 L195.4,315.2 L192.8,313.6 L189.7,312.8 L187.4,310.7 L184.4,309.2 L181.4,307.9 L177.9,307.9 L175.0,306.2 L172.9,309.3 L170.2,312.0 L168.3,315.2 L165.8,316.9 L162.6,317.3 L160.2,319.3 L157.2,319.9 L154.9,322.1 L151.9,322.9 L149.2,324.2 L145.5,322.5 L141.4,322.0 L139.9,318.8 L138.8,315.4 L138.0,311.9 L136.9,308.5 L135.1,305.9 L133.2,303.4 L131.8,300.6 L130.2,297.9 L129.0,295.0 L129.6,291.9 L129.3,288.8 L129.6,285.7 L128.5,282.7 L129.4,279.6 L128.5,276.5 L129.0,273.4 L131.0,270.9 L133.1,268.5 L135.0,265.9 L137.1,263.5 L139.9,261.8 L141.8,259.2 L144.0,256.9 L146.7,255.1 L149.5,253.6 L151.5,250.8 L154.4,249.4 L158.2,248.6 L161.5,246.6 L165.0,245.0 L167.9,242.6 L171.0,240.4 L174.2,238.5 L176.9,236.0 L178.9,233.5 L181.4,231.4 L184.8,229.8 L187.4,227.0 L191.2,224.8 L194.9,222.5 L197.8,221.3 L201.0,220.9 L203.8,219.5 L206.8,218.9 L209.7,218.1 L212.8,218.0 L216.4,217.9 L220.0,217.2" fill="none" stroke="#3e5862" stroke-width="2.2" stroke-linejoin="round" stroke-linecap="round" />
<path d="M381.0,164.5 L383.4,162.3 L386.7,161.6 L389.1,159.3 L392.0,158.0 L396.1,156.2 L400.0,154.0 L403.9,154.3 L407.6,153.2 L411.8,154.0 L416.0,154.5 L420.1,156.3 L424.4,157.6 L427.9,159.8 L431.0,162.5 L434.9,164.5 L438.0,167.7 L441.0,168.6 L443.6,170.1 L446.0,172.0 L448.9,173.6 L451.9,174.9 L454.8,176.5" fill="none" stroke="#3e5862" stroke-width="1.8" stroke-linejoin="round" stroke-linecap="round" />
<path d="M410.0,255.0 L406.8,255.8 L403.6,256.2 L400.7,258.0 L397.4,258.4 L395.6,261.3 L393.0,263.5 L391.6,266.7 L389.5,269.3 L386.9,271.5 L386.3,274.5 L385.9,277.6 L384.8,280.5 L384.2,283.6 L383.0,286.5 L382.2,289.5 L381.6,292.5 L379.3,295.4 L376.2,297.6 L373.7,300.4 L371.1,303.0 L368.7,305.0 L365.5,305.6 L363.4,308.0 L360.9,309.7 L358.0,310.8 L355.6,308.5 L354.3,305.4 L352.6,302.6 L350.2,300.3 L346.9,299.1 L343.4,298.9 L340.0,298.0 L336.4,298.2 L332.8,298.5 L329.2,297.7" fill="none" stroke="#3e5862" stroke-width="1.8" stroke-linejoin="round" stroke-linecap="round" />
<path d="M210.7,240.0 L208.8,242.4 L207.2,245.1 L205.8,247.8 L203.9,250.2 L201.1,253.5 L198.7,257.0 L197.0,262.2 L196.5,266.1 L195.3,270.0 L195.3,274.0 L193.9,277.3 L193.4,281.0 L191.9,284.3 L188.6,286.0 L186.3,289.1 L182.9,290.6 L180.0,292.8 L178.9,296.2 L177.8,299.6 L176.8,303.1 L175.0,306.2" fill="none" stroke="#3e5862" stroke-width="1.8" stroke-linejoin="round" stroke-linecap="round" />
<path d="M197.0,262.2 L200.3,263.6 L204.0,263.6 L207.2,265.3 L210.5,266.9 L214.1,267.3 L217.6,267.3 L221.0,267.9 L224.3,268.9 L227.7,269.3 L231.1,269.8 L234.4,271.1 L237.8,272.4 L241.4,272.6 L244.7,274.1 L248.2,274.7 L251.6,275.8 L255.8,275.5 L260.0,275.8 L262.2,273.6 L265.5,272.9 L267.9,271.0 L270.3,269.0 L274.6,269.3 L278.8,269.0 L282.3,268.9 L285.5,270.6 L289.0,270.7 L292.5,270.5 L295.9,269.5 L299.3,269.0 L302.7,269.3 L306.1,268.9 L309.5,269.0 L312.3,270.4 L314.9,271.9 L317.4,273.8 L319.7,275.8 L322.4,277.6 L324.4,280.2 L326.5,282.6 L327.0,286.9 L328.2,291.1 L324.7,292.6 L321.4,294.5 L317.4,294.0 L313.5,294.2 L309.5,294.5 L306.2,296.5 L302.7,297.8 L299.3,299.6 L296.8,301.8 L293.9,303.6 L291.6,306.0 L289.0,308.2 L286.2,310.2 L283.0,311.4 L279.8,312.7 L277.1,315.0 L273.8,316.0 L270.2,315.6 L266.9,316.7 L263.5,320.1 L264.7,323.3 L265.0,326.6 L265.2,330.0 L265.7,333.0 L265.2,336.0 L265.1,339.0 L265.5,342.0 L266.0,345.0" fill="none" stroke="#3e5862" stroke-width="1.8" stroke-linejoin="round" stroke-linecap="round" />
<path d="M260.9,300.0 L261.8,303.2 L261.7,306.7 L263.1,309.8 L263.5,313.1 L263.9,316.4 L263.5,319.7 L262.3,322.8 L262.2,326.2 L263.3,329.6 L264.8,332.8 L265.0,335.9 L265.4,339.0 L266.1,342.0 L264.8,345.9" fill="none" stroke="#3e5862" stroke-width="1.8" stroke-linejoin="round" stroke-linecap="round" />
<path d="M244.7,274.1 L245.2,277.7 L247.1,280.9 L248.2,284.3 L250.7,286.9 L253.7,289.0 L256.7,291.1 L257.3,294.7 L259.0,297.9 L260.0,301.3 L260.6,304.8 L261.7,308.2 L262.9,311.5 L263.5,315.0" fill="none" stroke="#3e5862" stroke-width="1.8" stroke-linejoin="round" stroke-linecap="round" />
<path d="M260.0,255.3 L263.0,256.1 L265.7,257.7 L268.6,258.7 L271.6,261.8 L273.7,265.6 L276.0,269.0" fill="none" stroke="#3e5862" stroke-width="1.8" stroke-linejoin="round" stroke-linecap="round" />
<path d="M358.0,310.8 L355.4,308.5 L353.2,311.2 L352.4,314.7 L350.8,317.8 L349.0,320.8 L346.8,323.5 L345.2,326.9 L344.9,330.7 L343.6,334.2 L345.9,337.1 L347.9,340.3 L349.7,343.5 L351.0,347.0 L353.0,349.7 L355.2,352.1 L357.3,354.6 L359.4,357.2 L362.3,359.0 L364.0,361.9 L366.4,364.1 L369.1,366.0 L371.2,368.6 L373.6,370.8 L376.1,373.0 L378.9,374.7 L381.5,376.9 L382.7,380.1 L384.8,382.8 L386.9,385.3 L389.5,387.5 L392.9,388.6 L396.1,390.3 L399.3,391.8 L402.3,393.9 L405.2,395.1 L407.1,397.7 L409.7,399.4 L412.4,400.9 L415.0,402.5 L416.7,405.7 L419.1,408.4 L421.3,411.2 L423.2,413.7 L425.0,416.3 L426.6,418.9 L427.7,421.9 L431.0,424.5 L434.7,426.4" fill="none" stroke="#3e5862" stroke-width="1.8" stroke-linejoin="round" stroke-linecap="round" />
<path d="M445.0,442.4 L448.3,443.5 L451.2,445.4 L454.3,444.1 L457.6,443.1 L460.6,441.5 L464.0,441.1 L467.0,438.7 L470.4,436.8 L472.3,434.5 L474.9,432.7 L476.8,430.4 L479.3,428.5 L481.8,426.8 L484.8,425.8 L487.0,423.6 L489.6,421.9 L492.1,420.1 L494.0,417.7 L495.6,415.0 L498.1,413.3 L500.3,411.2 L498.1,408.4 L496.3,405.3 L493.9,402.7 L489.6,401.9 L485.4,400.6 L482.1,401.4 L479.0,402.6 L475.9,404.1 L472.6,404.8 L469.6,403.3 L466.2,402.7 L468.3,398.4 L470.5,396.2 L473.7,395.4 L475.7,393.0 L478.2,391.1 L481.1,390.0 L483.5,387.5 L486.7,385.9 L489.5,384.0 L491.8,381.3 L490.4,377.9 L490.3,374.2 L489.6,370.7 L492.6,367.7 L495.6,364.7 L495.1,361.2 L493.5,358.0 L493.0,354.4 L492.0,351.1 L491.3,347.6 L492.8,344.6 L493.5,341.2 L497.2,342.3 L500.4,344.6 L504.2,345.5 L506.9,346.9 L509.5,348.6 L511.7,350.8 L514.4,352.3 L517.0,354.0 L519.5,356.2 L521.1,359.2 L523.8,361.3 L525.2,364.5 L527.6,366.8 L530.7,368.6 L533.8,370.4 L537.1,371.8 L540.4,373.2 L543.4,375.2 L546.2,377.4 L549.0,379.6 L552.1,377.4 L555.4,375.4 L556.4,372.0 L555.7,368.5 L557.2,365.2 L556.4,361.6 L557.5,358.3 L555.1,356.5 L553.0,354.3 L551.1,351.9 L553.6,350.2 L555.4,347.7 L557.4,345.4 L559.6,343.4 L562.4,341.1 L564.2,337.8 L566.8,335.3 L569.3,332.7" fill="none" stroke="#3e5862" stroke-width="1.8" stroke-linejoin="round" stroke-linecap="round" />
<path d="M531.0,285.0 L532.6,288.4 L534.0,291.8 L536.0,295.0 L536.8,299.0 L538.3,302.8 L539.2,306.1 L540.7,309.1 L541.8,312.3 L542.6,315.6 L545.1,318.0 L546.5,321.2 L548.8,323.8 L551.1,326.3 L554.7,326.3 L558.2,325.1 L561.8,325.2 L564.4,327.6 L566.5,330.5 L569.3,332.7 L572.6,333.3 L576.1,333.2 L579.4,334.2 L582.7,335.4 L586.2,335.0 L589.5,335.9 L592.7,335.8 L595.9,336.3 L599.1,337.2 L602.2,337.8 L605.6,337.2 L608.7,338.0 L612.2,336.8 L615.8,336.3 L619.4,335.9 L621.7,338.1 L623.7,340.7 L626.2,342.8 L628.0,345.5 L630.3,347.5 L632.6,349.5 L633.9,352.4 L636.3,354.3 L639.1,355.8 L640.8,358.3 L642.8,360.9 L646.0,362.1 L648.2,364.6 L650.1,367.3 L652.7,369.3 L655.2,371.3 L657.8,373.2 L660.9,375.3 L664.1,377.2 L666.8,379.8 L670.0,381.8 L673.1,383.1 L675.9,384.9 L678.7,386.9 L681.8,388.2 L684.4,390.4 L686.9,392.6 L690.0,394.0 L692.6,395.8 L695.4,397.2 L698.0,398.9 L700.9,400.3 L703.8,401.5 L706.2,403.7 L709.1,405.0 L711.7,406.7 L715.2,406.4 L718.6,406.0 L721.9,404.7 L725.3,404.2 L728.7,403.5 L731.8,402.5 L734.7,400.8 L737.6,399.3 L740.8,398.7 L743.7,397.1 L747.2,396.8 L750.6,395.8 L754.0,394.8 L757.5,394.1 L760.8,392.8 L764.3,393.8 L767.8,394.5 L771.4,395.0" fill="none" stroke="#3e5862" stroke-width="1.8" stroke-linejoin="round" stroke-linecap="round" />
<path d="M771.3,190.6 L773.8,189.6 L776.2,188.3 L779.0,188.0 L781.4,186.8 L783.3,185.3 L785.6,185.4 L788.0,185.5 L790.1,184.7 L792.1,183.9 L794.2,183.0 L796.6,181.5 L799.2,180.9 L801.8,180.1 L804.4,179.2 L806.4,177.6 L807.8,175.5 L810.0,174.1 L812.2,172.7 L813.3,170.3 L815.6,169.9 L817.7,171.2 L819.9,171.8 L822.2,171.5 L824.7,170.8 L827.3,170.5 L830.0,171.0 L832.2,168.5 L834.9,169.0 L837.5,168.6 L839.8,167.3 L842.6,168.1 L845.2,168.0 L847.6,166.5 L850.1,166.8 L852.8,166.1 L855.2,167.4 L857.8,167.5 L860.3,167.7 L862.9,167.9 L865.4,167.1 L868.0,167.1 L870.5,166.5 L872.0,168.6 L874.3,169.7 L876.4,171.1 L878.2,172.8 L880.1,174.3 L882.7,173.3 L884.6,174.8 L886.9,174.7 L888.9,176.1 L891.4,175.3 L893.4,176.6 L896.0,177.5 L898.5,175.9 L901.0,175.0 L903.6,175.3 L906.1,175.4 L908.7,175.4 L911.0,173.7 L913.8,173.9 L916.3,173.3 L918.9,172.8 L921.1,173.5 L923.5,173.0 L925.8,173.1 L928.1,173.2 L930.3,174.1 L930.7,176.4 L931.1,178.7 L932.9,180.5 L932.0,183.0 L931.8,185.8 L930.3,188.1 L927.7,189.2 L926.0,191.5 L924.0,193.4 L921.4,194.5 L919.2,195.5 L916.9,194.2 L914.7,194.3 L912.5,194.8 L910.3,195.3 L908.0,195.3 L905.9,196.2 L903.6,195.7 L901.6,194.3 L899.2,195.3 L897.1,194.3 L895.0,193.6 L892.8,193.2 L890.5,193.6 L888.3,193.2 L885.7,193.4 L883.2,192.7 L880.6,193.4 L878.2,191.6 L875.6,192.4 L873.1,191.9 L870.5,191.1 L868.0,192.4 L865.5,192.2 L862.9,192.4 L860.3,192.1 L857.8,191.9 L855.8,193.3 L853.8,194.4 L851.1,193.6 L849.2,195.3 L847.0,196.1 L844.8,196.7 L842.5,197.0 L840.3,197.8 L838.2,198.6 L835.9,198.9 L833.7,199.6 L831.7,200.9 L829.2,200.5 L827.3,202.1 L824.9,201.9 L823.2,204.1 L820.6,203.0 L818.3,203.4 L816.2,204.2 L814.4,206.1 L812.0,205.9 L809.7,205.8 L807.7,206.9 L806.0,208.8 L803.8,209.5 L801.1,208.1 L799.3,209.7 L797.0,210.2 L795.2,211.9 L793.2,213.1 L791.1,213.8 L788.9,214.5 L786.5,214.8 L783.9,214.5 L781.5,215.8 L779.0,216.5 L776.4,216.1 L776.6,213.3 L775.7,210.8 L773.7,208.6 L773.8,205.9 L775.5,203.6 L775.8,200.9 L776.4,198.3 L775.6,196.0 L774.2,194.2 L773.3,192.0 Z" fill="#f3f3ea" stroke="#4a666e" stroke-width="1.5" stroke-linejoin="round" stroke-linecap="round" />
<path d="M773.8,216.1 L771.4,217.1 L769.3,218.5 L768.1,221.2 L765.4,221.8 L763.6,223.7 L761.5,225.2 L759.2,226.4 L757.6,228.4 L754.9,229.2 L753.4,231.4 L751.8,233.3 L750.8,235.8 L749.3,237.8 L748.0,240.0 L745.8,241.5 L745.2,244.1 L745.5,246.8 L744.0,249.2 L743.3,251.7 L743.4,254.4 L742.0,256.8 L741.4,259.4 L740.7,261.9 L740.3,264.1 L739.2,266.1 L740.7,268.6 L738.5,270.5 L739.0,272.8 L738.4,275.0 L738.2,277.2 L738.4,279.9 L738.7,282.6 L740.0,285.0 L739.2,287.1 L738.2,289.1 L737.0,291.0 L734.7,290.0 L732.3,291.9 L730.0,291.0 L729.3,288.9 L728.2,286.9 L726.0,285.6 L726.2,283.0 L725.3,281.0 L724.8,278.7 L722.9,277.2 L721.1,275.4 L720.7,272.5 L718.4,271.1 L716.8,269.1 L715.3,267.0 L715.3,264.6 L712.6,263.1 L713.2,260.5 L712.2,258.4 L710.7,256.5 L710.2,254.3 L711.3,252.2 L710.5,249.8 L711.1,247.6 L711.5,245.4 L712.4,243.2 L711.4,240.8 L712.2,238.6 L712.7,236.4 L712.5,233.9 L712.8,231.3 L713.4,228.8 L712.2,226.2 L712.7,223.7 L715.1,222.7 L716.4,220.4 L718.5,219.0 L720.4,217.4 L722.9,216.6 L725.5,216.9 L728.1,217.7 L730.6,216.7 L733.1,216.1 L735.5,215.1 L737.0,212.7 L739.0,211.2 L741.0,209.6 L743.3,208.4 L745.6,207.8 L747.8,207.1 L750.2,206.6 L751.9,204.3 L754.6,204.9 L756.9,204.5 L758.9,203.0 L761.1,202.1 L762.1,199.5 L764.2,198.0 L765.4,195.6 L767.4,194.0 L770.3,193.1 L771.3,190.6 L772.4,192.7 L773.6,194.6 L774.6,196.7 L776.4,198.3 L774.7,200.5 L774.4,203.3 L773.8,205.9 L773.5,208.4 L773.5,211.0 L773.4,213.6 Z" fill="#f3f3ea" stroke="#4a666e" stroke-width="1.5" stroke-linejoin="round" stroke-linecap="round" />
<path d="M625.0,262.0 L633.0,257.0 L645.0,258.0 L650.0,264.0 L650.0,273.0 L645.0,279.0 L633.0,278.0 L625.0,273.0 L622.0,267.0 Z" fill="#f3f3ea" stroke="#4f6c74" stroke-width="1.6" stroke-linejoin="round" stroke-linecap="round" />
<path d="M737.0,310.0 L744.0,307.0 L750.0,309.0 L752.0,318.0 L751.0,330.0 L745.0,333.0 L740.0,326.0 L738.0,318.0 Z" fill="#f3f3ea" stroke="#3e5862" stroke-width="1.8" stroke-linejoin="round" stroke-linecap="round" />
<path d="M16.6,164.7 L17.4,167.8 L18.4,170.8 L18.6,173.7 L19.5,176.5 L19.6,179.4 L20.2,181.9 L21.2,184.3 L22.0,186.7 L22.5,189.2 L24.1,191.4 L24.5,194.0 L26.0,196.3 L27.4,198.6 L28.1,201.3 L29.5,203.9 L31.0,206.4 L33.0,208.6 L36.7,208.6 L39.2,207.6 L41.5,206.2 L44.5,205.4 L47.6,204.9 L49.9,203.6 L51.9,201.9 L53.7,200.0 L52.6,197.6 L51.3,195.2 L49.8,192.9 L48.8,190.3 L48.2,187.5 L47.9,184.6 L47.6,181.8 L50.1,178.1 L47.0,177.1 L44.0,175.7 L40.9,173.9 L37.9,172.0 L37.3,168.4 L35.5,164.7 L32.8,164.5 L30.1,164.2 L27.4,165.2 L24.7,164.6 L22.0,165.3 L19.3,165.2 Z" fill="#f7f7f2" stroke="#3e5862" stroke-width="1.6" stroke-linejoin="round" stroke-linecap="round" />
<path d="M37.3,168.4 L40.3,170.0 L48.8,171.2 L55.0,171.5 L61.0,170.2" fill="none" stroke="#3e5862" stroke-width="1.8" stroke-linejoin="round" stroke-linecap="round" />
</g>


<!-- labels -->
<g font-family="Liberation Sans, sans-serif" font-weight="bold" fill="#2a383f" font-size="13">
 <text x="24.3" y="189.4" textLength="71.4" lengthAdjust="spacingAndGlyphs">Калининград</text>
 <text x="471.7" y="153.3" textLength="59" lengthAdjust="spacingAndGlyphs">Мурманск</text>
 <text x="160.3" y="264.9" textLength="35.5" lengthAdjust="spacingAndGlyphs">Псков</text>
 <text x="304.3" y="259.2" textLength="82.5" lengthAdjust="spacingAndGlyphs">Петрозаводск</text>
 <text x="195.3" y="292" textLength="49.4" lengthAdjust="spacingAndGlyphs">Великий</text>
 <text x="189.4" y="302.2" textLength="56.2" lengthAdjust="spacingAndGlyphs">Новгород</text>
 <text x="469" y="297.8" textLength="73.8" lengthAdjust="spacingAndGlyphs">Архангельск</text>
 <text x="632.2" y="349.3" textLength="73.2" lengthAdjust="spacingAndGlyphs">Нарьян-Мар</text>
 <text x="328" y="387.5" textLength="47" lengthAdjust="spacingAndGlyphs">Вологда</text>
 <text x="467.2" y="443" textLength="63.4" lengthAdjust="spacingAndGlyphs">Сыктывкар</text>
 <text x="695.7" y="421" textLength="47.6" lengthAdjust="spacingAndGlyphs">Воркута</text>
</g>
<g font-family="Liberation Sans, sans-serif" font-weight="bold" fill="none" stroke="#f6f5ec" stroke-width="2.2" stroke-linejoin="round">
 <text x="226.8" y="226.3" font-size="15" textLength="55.2" lengthAdjust="spacingAndGlyphs">САНКТ-</text>
 <text x="199.6" y="240.8" font-size="15" textLength="75.9" lengthAdjust="spacingAndGlyphs">ПЕТЕРБУРГ</text>
</g>
<g font-family="Liberation Sans, sans-serif" font-weight="bold" fill="#27363e" stroke="#27363e" stroke-width="0.25">
 <text x="226.8" y="226.3" font-size="15" textLength="55.2" lengthAdjust="spacingAndGlyphs">САНКТ-</text>
 <text x="199.6" y="240.8" font-size="15" textLength="75.9" lengthAdjust="spacingAndGlyphs">ПЕТЕРБУРГ</text>
 <text x="204.3" y="403.5" font-size="15" textLength="57.6" lengthAdjust="spacingAndGlyphs">МОСКВА</text>
 <text x="585.8" y="188.5" font-size="12.8" textLength="107.3" lengthAdjust="spacingAndGlyphs">БАРЕНЦЕВО МОРЕ</text>
 <text x="792.5" y="256.7" font-size="14" textLength="90" lengthAdjust="spacingAndGlyphs">КАРСКОЕ МОРЕ</text>
 <text x="620" y="295" font-size="13.2" textLength="105" lengthAdjust="spacingAndGlyphs">ПЕЧЕРСКОЕ МОРЕ</text>
 <text x="427.7" y="221.2" font-size="12" textLength="37.3" lengthAdjust="spacingAndGlyphs">БЕЛОЕ</text>
 <text x="431.5" y="234.7" font-size="12" textLength="30.5" lengthAdjust="spacingAndGlyphs">МОРЕ</text>
 <text transform="translate(206.5,178.3) rotate(48.5)" x="0" y="0" font-size="10.5" stroke="#27363e" stroke-width="0.7" text-anchor="middle" dominant-baseline="central" textLength="83" lengthAdjust="spacingAndGlyphs">Финский залив</text>
</g>
<g font-family="Liberation Sans, sans-serif" font-size="21" fill="#2c363b" stroke="#2c363b" stroke-width="0.35">
 <text transform="translate(173.5,444.3) scale(1.090,1)">Р</text><text transform="translate(212.4,444.3) scale(1.431,1)">О</text><text transform="translate(260.1,444.3) scale(1.242,1)">С</text><text transform="translate(302.8,444.3) scale(1.275,1)">С</text><text transform="translate(346.6,444.3) scale(1.089,1)">И</text><text transform="translate(391.3,444.3) scale(0.908,1)">Я</text>
</g>
<g fill="#e3302c">
 <rect x="248.3" y="244.3" width="10.3" height="9.3"/>
 <rect x="204.3" y="409.6" width="10.2" height="9.2"/>
 <circle cx="28.8" cy="173" r="3.2"/>
 <circle cx="515.7" cy="139" r="3.2"/>
 <circle cx="178" cy="252.7" r="3.2"/>
 <circle cx="333.6" cy="268" r="3.6"/>
 <circle cx="222.6" cy="280.9" r="3.2"/>
 <circle cx="462" cy="290.3" r="3.2"/>
 <circle cx="640.3" cy="332.2" r="3.2"/>
 <circle cx="320.1" cy="383.2" r="3.2"/>
 <circle cx="492.8" cy="448.8" r="3.2"/>
 <circle cx="748" cy="409.9" r="3.2"/>
</g>
<!-- servers -->
<use href="#srv" x="234.7" y="98.3" width="47.3" height="108.5"/>
<use href="#srvs" x="16.2" y="115.4" width="24.4" height="49.6"/>
<use href="#srvs" x="522.7" y="90.1" width="24" height="49.3"/>
<use href="#srvs" x="144.4" y="199.2" width="24.1" height="49"/>
<use href="#srvs" x="326.4" y="199.4" width="23.6" height="48.9"/>
<use href="#srvs" x="462.5" y="231.5" width="24" height="49"/>
<use href="#srvs" x="651.6" y="282.5" width="24" height="48.8"/>
<use href="#srvs" x="197.7" y="308" width="24" height="48.6"/>
<use href="#srvs" x="288.6" y="352.5" width="23.6" height="48.8"/>
<use href="#srvs" x="500.3" y="448.8" width="24.3" height="48.5"/>

<!-- underlines -->
<g fill="#0f6662">
 <rect x="16.5" y="190.4" width="98.1" height="3.3"/>
 <rect x="470.5" y="159" width="67.8" height="3"/>
 <rect x="152.2" y="268.2" width="60.5" height="2.8"/>
 <rect x="296" y="261.9" width="97.5" height="2.8"/>
 <rect x="190.2" y="306" width="60" height="2.8"/>
 <rect x="455.4" y="300.1" width="98" height="2.8"/>
 <rect x="628.6" y="351" width="82.8" height="3"/>
 <rect x="318.4" y="388.8" width="68.3" height="3"/>
 <rect x="454.4" y="446.7" width="84.3" height="3.1"/>
</g>
<!-- arrows -->
<g stroke="#000" stroke-width="1.1" fill="none">
 <line x1="40.4" y1="128.5" x2="234.7" y2="128.5" marker-start="url(#ah)" marker-end="url(#ah)"/>
 <line x1="281.7" y1="128" x2="521.6" y2="109.3" marker-start="url(#ah)" marker-end="url(#ah)"/>
 <line x1="235.2" y1="180.6" x2="168.4" y2="205.9" marker-start="url(#ah)" marker-end="url(#ah)"/>
 <line x1="327" y1="205.8" x2="282" y2="180.3" marker-end="url(#ahf)"/>
 <line x1="281.7" y1="155.5" x2="461.4" y2="254.9" marker-start="url(#ah)" marker-end="url(#ah)"/>
 <line x1="281.7" y1="142.6" x2="658.9" y2="282" marker-start="url(#ah)" marker-end="url(#ah)"/>
 <line x1="250.2" y1="206.8" x2="212.8" y2="305.5" marker-start="url(#ah)" marker-end="url(#ah)"/>
 <line x1="272.7" y1="206.8" x2="303.4" y2="357" marker-start="url(#ah)" marker-end="url(#ah)"/>
 <line x1="282" y1="200.3" x2="513.5" y2="451.5" marker-start="url(#ah)" marker-end="url(#ah)"/>
</g>


<!-- up arrow -->
<path d="M243.4,65.5 L262.4,56.2 L281.4,65.5 L272.5,65.5 L272.5,93.4 L252.8,93.4 L252.8,65.5 Z" fill="url(#garrow)" stroke="#2a9483" stroke-width="1" stroke-linejoin="miter"/>
</svg>
<div class="hdr"><div style="top:-0.8px">Управление аппарата ГАК</div><div style="top:18.4px;letter-spacing:0.25px">по СЗФО</div></div>
<div class="bd">БД «Антинар СПб-СЗФО»</div>
</body></html>
